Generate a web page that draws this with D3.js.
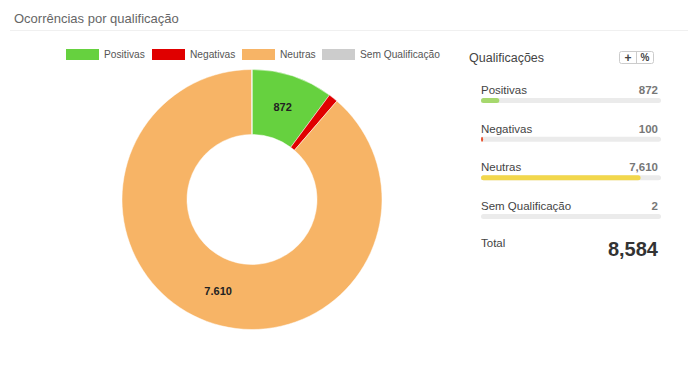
<!DOCTYPE html>
<html>
<head>
<meta charset="utf-8">
<script src="https://cdn.jsdelivr.net/npm/d3@7"></script>
<style>
  body { margin: 0; background: #fff; font-family: "Liberation Sans", Arial, sans-serif; }
</style>
</head>
<body>
<div class="graph"></div>
<script>
const w = 688;
const h = 381;

const categories = ["Positivas", "Negativas", "Neutras", "Sem Qualificação"];
const values = [872, 100, 7610, 2];
const pieColors = ["#66d13f", "#e00000", "#f7b466", "#cccccc"];
const barColors = ["#a6d86d", "#ea4f2a", "#f2d74c", "#bbbbbb"];
const sliceLabels = ["872", "", "7.610", ""];
const valueLabels = ["872", "100", "7,610", "2"];
const totalLabel = "8,584";

const svg = d3.select(".graph")
  .append("svg")
  .attr("width", w)
  .attr("height", h);

// title
svg.append("text")
  .attr("x", 14)
  .attr("y", 23)
  .attr("font-size", 13)
  .attr("fill", "#666")
  .text("Ocorrências por qualificação");

svg.append("line")
  .attr("x1", 10).attr("x2", 688)
  .attr("y1", 30.5).attr("y2", 30.5)
  .attr("stroke", "#f0f0f0");

// legend
const legendX = [66, 152, 242, 322];
const legend = svg.append("g");
categories.forEach((c, i) => {
  legend.append("rect")
    .attr("x", legendX[i]).attr("y", 49)
    .attr("width", 33).attr("height", 11)
    .attr("fill", pieColors[i]);
  legend.append("text")
    .attr("x", legendX[i] + 38).attr("y", 58)
    .attr("font-size", 10.2)
    .attr("fill", "#555")
    .text(c);
});

// donut
const cx = 252, cy = 199.5, R = 130, r = 65;
const pie = d3.pie().sort(null).value(d => d);
const arc = d3.arc().innerRadius(r).outerRadius(R);
const arcs = pie(values);

const g = svg.append("g").attr("transform", `translate(${cx},${cy})`);
g.selectAll("path")
  .data(arcs)
  .enter().append("path")
  .attr("d", arc)
  .attr("fill", (d, i) => pieColors[i])
  .attr("stroke", "#fff")
  .attr("stroke-width", 0.5);

g.selectAll("text.lbl")
  .data(arcs)
  .enter().append("text")
  .attr("class", "lbl")
  .attr("transform", d => `translate(${arc.centroid(d)})`)
  .attr("text-anchor", "middle")
  .attr("dy", "0.35em")
  .attr("font-size", 11)
  .attr("font-weight", "bold")
  .attr("fill", "#222")
  .text((d, i) => sliceLabels[i]);

// right panel
const total = d3.sum(values);
const px = 469;
svg.append("text")
  .attr("x", px).attr("y", 62)
  .attr("font-size", 12.5)
  .attr("fill", "#444")
  .text("Qualificações");

const btn = svg.append("g").attr("transform", "translate(619,51)");
btn.append("rect")
  .attr("x", 0.5).attr("y", 0.5)
  .attr("width", 34).attr("height", 12)
  .attr("rx", 2)
  .attr("fill", "#fff")
  .attr("stroke", "#ccc");
btn.append("line")
  .attr("x1", 17.5).attr("x2", 17.5)
  .attr("y1", 1).attr("y2", 12)
  .attr("stroke", "#ccc");
btn.append("text")
  .attr("x", 9).attr("y", 10.5)
  .attr("text-anchor", "middle")
  .attr("font-size", 12).attr("font-weight", "bold")
  .attr("fill", "#444")
  .text("+");
btn.append("text")
  .attr("x", 26).attr("y", 10)
  .attr("text-anchor", "middle")
  .attr("font-size", 10).attr("font-weight", "bold")
  .attr("fill", "#444")
  .text("%");

const barX = d3.scaleLinear().domain([0, total]).range([0, 180]);
const rowY = d3.scalePoint().domain(categories).range([94, 210]);

categories.forEach((c, i) => {
  const y = rowY(c);
  svg.append("text")
    .attr("x", 481).attr("y", y)
    .attr("font-size", 11.5)
    .attr("fill", "#444")
    .text(c);
  svg.append("text")
    .attr("x", 658).attr("y", y)
    .attr("text-anchor", "end")
    .attr("font-size", 11.5)
    .attr("font-weight", "bold")
    .attr("fill", "#777")
    .text(valueLabels[i]);
  svg.append("rect")
    .attr("x", 481).attr("y", y + 4)
    .attr("width", 180).attr("height", 5)
    .attr("rx", 2.5)
    .attr("fill", "#ebebeb");
  svg.append("rect")
    .attr("x", 481).attr("y", y + 4)
    .attr("width", Math.max(barX(values[i]), 2))
    .attr("height", 5)
    .attr("rx", 2.5)
    .attr("fill", values[i] > 10 ? barColors[i] : "none");
});

svg.append("text")
  .attr("x", 481).attr("y", 247)
  .attr("font-size", 11.5)
  .attr("fill", "#444")
  .text("Total");
svg.append("text")
  .attr("x", 658).attr("y", 256)
  .attr("text-anchor", "end")
  .attr("font-size", 20)
  .attr("font-weight", "bold")
  .attr("fill", "#333")
  .text(totalLabel);
</script>
</body>
</html>
